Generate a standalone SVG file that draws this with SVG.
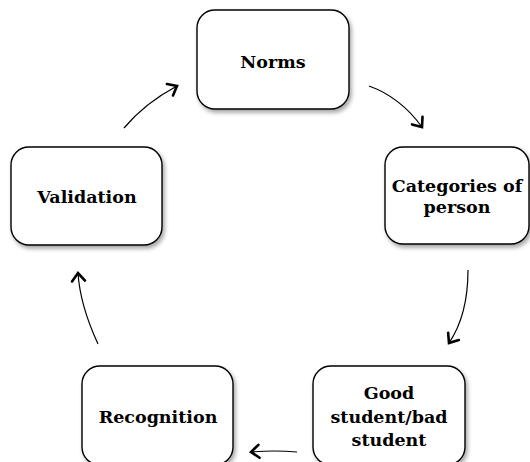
<svg xmlns="http://www.w3.org/2000/svg" width="530" height="462" viewBox="0 0 530 462">
<defs>
<filter id="sh" x="-10%" y="-10%" width="125%" height="130%">
<feDropShadow dx="2" dy="3" stdDeviation="2" flood-color="#000" flood-opacity="0.35"/>
</filter>
<marker id="ah" markerUnits="userSpaceOnUse" markerWidth="20" markerHeight="20" viewBox="-10 -10 20 20" refX="0" refY="0" orient="auto">
<path d="M-8,-6.5 L0,0 L-8,6.5" fill="none" stroke="#000" stroke-width="2.6" stroke-linecap="round" stroke-linejoin="miter"/>
</marker>
<style>
.box{fill:#fff;stroke:#000;stroke-width:1.4;filter:url(#sh)}
.t{font-family:"DejaVu Serif",serif;font-weight:bold;font-size:17.5px;text-anchor:middle;fill:#000}
.c{fill:none;stroke:#000;stroke-width:1.2;marker-end:url(#ah)}
</style>
</defs>
<rect width="530" height="462" fill="#fff"/>
<g id="connectors">
<path class="c" d="M124,128 Q145,103 177,86"/>
<path class="c" d="M369,86 Q400,97 422,127"/>
<path class="c" d="M468,270 Q468,315 449,343"/>
<path class="c" d="M297,452 Q274,450 251,452"/>
<path class="c" d="M98,344 Q80,305 78,273"/>
</g>
<g id="norms">
<rect class="box" x="197" y="10" width="152" height="99" rx="18"/>
<text class="t" x="273" y="68">Norms</text>
</g>
<g id="categories">
<rect class="box" x="385" y="147" width="144" height="97" rx="18"/>
<text class="t" x="457" y="192">Categories of</text>
<text class="t" x="457" y="213">person</text>
</g>
<g id="good">
<rect class="box" x="313" y="366" width="152" height="99" rx="18"/>
<text class="t" x="389" y="399">Good</text>
<text class="t" x="389" y="423">student/bad</text>
<text class="t" x="389" y="446">student</text>
</g>
<g id="recognition">
<rect class="box" x="82" y="366" width="151" height="99" rx="18"/>
<text class="t" x="158" y="423">Recognition</text>
</g>
<g id="validation">
<rect class="box" x="11" y="147" width="151" height="98" rx="18"/>
<text class="t" x="87" y="203">Validation</text>
</g>
</svg>
